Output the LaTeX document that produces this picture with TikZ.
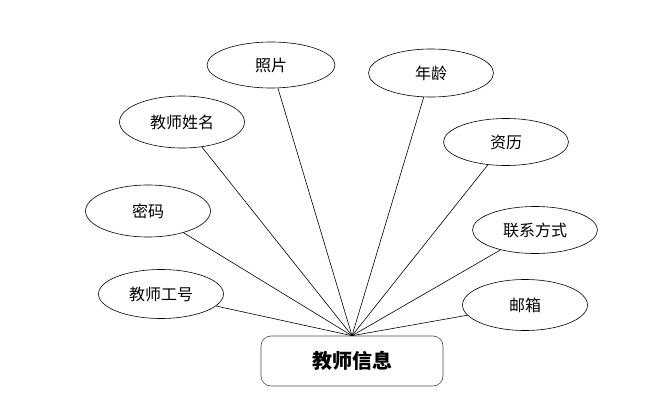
\documentclass[tikz,border=0pt]{standalone}
\usepackage{fontspec}
\newfontfamily\cjk{Noto Sans CJK SC}
\usepackage{tikz}
\usetikzlibrary{shapes,positioning}

\begin{document}
\begin{tikzpicture}[
    x=1pt, y=-1pt,
    attr/.style={ellipse, draw=black, line width=0.6pt, minimum width=125pt, minimum height=49pt, inner sep=0pt, font=\cjk\fontsize{16}{19}\selectfont},
    entity/.style={rectangle, draw=black!70, line width=0.6pt, minimum width=182pt, minimum height=50pt, rounded corners=10pt, font=\cjk\bfseries\fontsize{20}{24}\selectfont},
    link/.style={-, line width=0.6pt}
]
\useasboundingbox (0,0) rectangle (657,405);

% Entity
\node (info) [entity] at (352,361) {教师信息};

% Attributes
\node (photo) [attr, minimum width=128pt, minimum height=46pt] at (271,65) {照片};
\node (name) [attr, minimum height=52pt] at (182,122) {教师姓名};
\node (age) [attr, minimum height=48pt] at (431,73) {年龄};
\node (qual) [attr, minimum height=47pt] at (506,142) {资历};
\node (pwd) [attr, minimum height=52pt] at (148,211) {密码};
\node (tid) [attr] at (161,294) {教师工号};
\node (contact) [attr, minimum height=47pt] at (535,230) {联系方式};
\node (mail) [attr, minimum height=51pt] at (525,305) {邮箱};

% Links
\draw [link] (tid) -- (info.north);
\draw [link] (pwd) -- (info.north);
\draw [link] (name) -- (info.north);
\draw [link] (photo) -- (info.north);
\draw [link] (age) -- (info.north);
\draw [link] (qual) -- (info.north);
\draw [link] (contact) -- (info.north);
\draw [link] (mail) -- (info.north);

\end{tikzpicture}
\end{document}
